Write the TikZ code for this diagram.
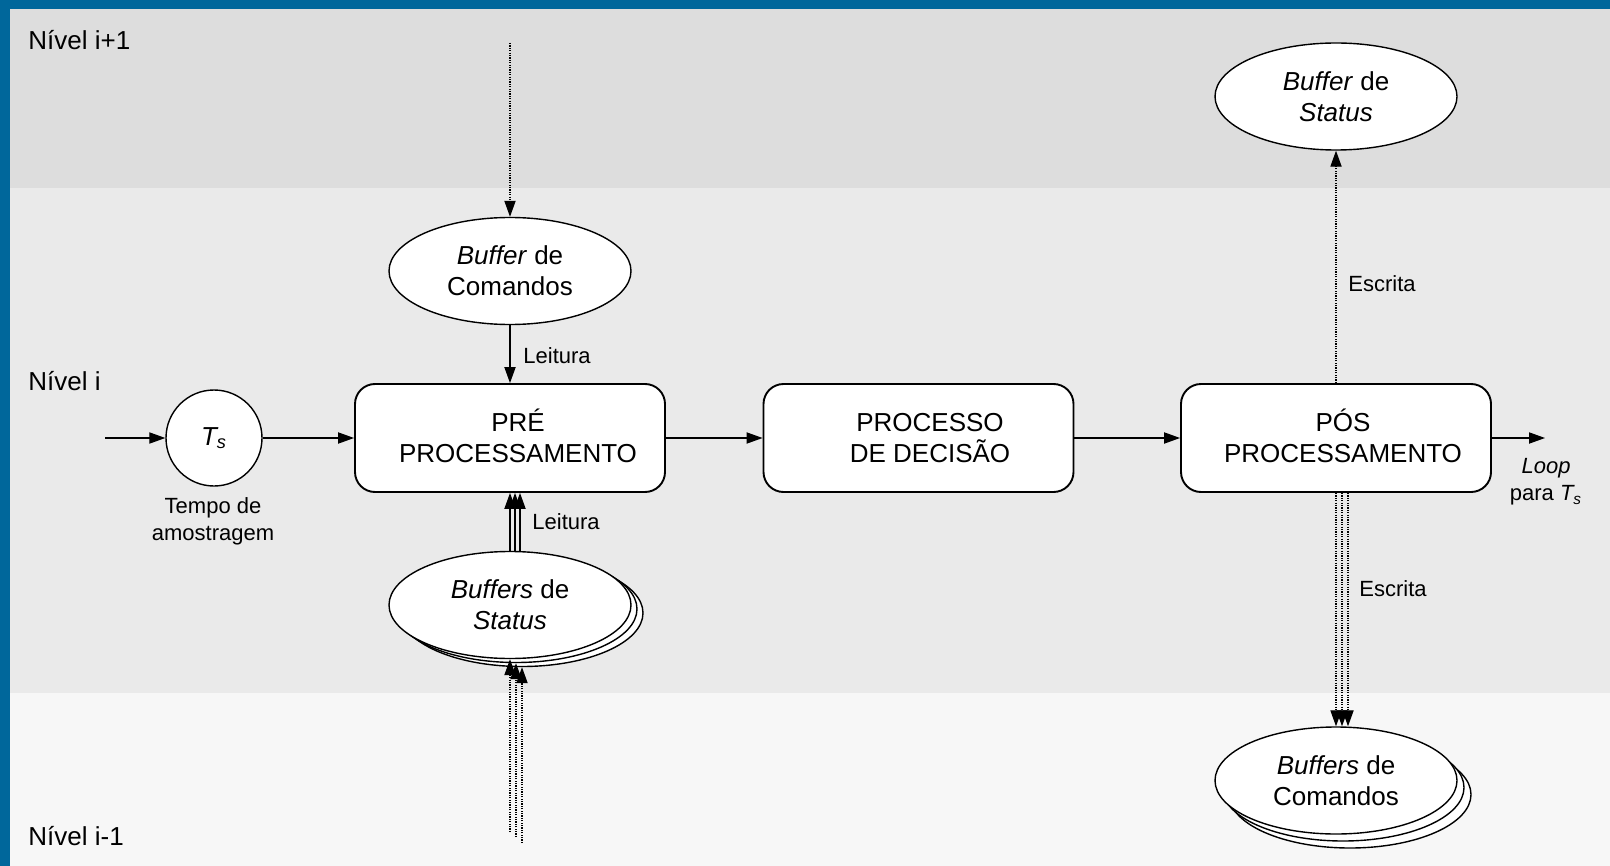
\documentclass[tikz,border=0pt]{standalone}
\usepackage{fontspec}
\setmainfont{Liberation Sans}
\usetikzlibrary{arrows.meta,shapes.geometric}
\definecolor{frameblue}{RGB}{0,103,155}
\definecolor{bandtop}{RGB}{221,221,221}
\definecolor{bandmid}{RGB}{234,234,234}
\definecolor{bandlow}{RGB}{247,247,247}

\begin{document}
\begin{tikzpicture}[x=0.5pt,y=-0.5pt,
  big/.style={font=\fontsize{13}{15.5}\selectfont},
  small/.style={font=\fontsize{11}{13.5}\selectfont},
  lbl/.style={inner sep=0pt, small},
  level/.style={inner sep=0pt, big, anchor=base west},
  proc/.style={draw, line width=0.95pt, rounded corners=10pt, fill=white,
    minimum width=155pt, minimum height=54pt, inner sep=0pt},
  proctext/.style={inner sep=0pt, big, align=center},
  buf/.style={draw, ellipse, line width=0.7pt, fill=white, minimum width=121pt,
    minimum height=53.5pt, inner sep=0pt, align=center, big},
  clock/.style={draw, circle, line width=0.7pt, fill=white, minimum size=48pt,
    inner sep=0pt, big},
  flow/.style={-{Triangle[length=8pt,width=5.6pt]}, line width=0.6pt},
  dots/.style={flow, line width=0.6pt, dash pattern=on 0.6pt off 0.6pt},
]
\useasboundingbox (0,0) rectangle (1610,866);

% level bands and frame
\fill[bandtop] (0,0) rectangle (1610,188);
\fill[bandmid] (0,188) rectangle (1610,693);
\fill[bandlow] (0,693) rectangle (1610,866);
\fill[frameblue] (0,0) rectangle (1610,9);
\fill[frameblue] (0,0) rectangle (10,866);

\node[level] (lvup) at (28,50) {Nível i+1};
\node[level] (lvmid) at (28,390) {Nível i};
\node[level] (lvlow) at (28,845) {Nível i-1};

% sampling clock
\coordinate (in) at (105,438);
\node[clock] (ts) at (214,438) {\textit{T\textsubscript{s}}};
\node[lbl, align=center] (tempo) at (213,521) {Tempo de\\amostragem};

% processing chain
\node[proc] (pre) at (510,438) {};
\node[proctext] (pretext) at (518,435.5) {PRÉ\\PROCESSAMENTO};
\node[proc] (dec) at (918.5,438) {};
\node[proctext] (dectext) at (930,438) {PROCESSO\\DE DECISÃO};
\node[proc] (pos) at (1336,438) {};
\node[proctext] (postext) at (1343,435.5) {PÓS\\PROCESSAMENTO};
\coordinate (loopend) at (1545,438);
\node[lbl, align=center] (loop) at (1546,482) {\textit{Loop}\\para \textit{T\textsubscript{s}}};

% buffers
\node[buf] (cmd) at (510,271) {\textit{Buffer} de\\Comandos};
\node[buf] (stat) at (1336,96.5) {\textit{Buffer} de\\\textit{Status}};

\node[buf] (stsC) at (522,613) {};
\node[buf] (stsB) at (516,609) {};
\node[buf] (stsA) at (510,605) {\textit{Buffers} de\\\textit{Status}};

\node[buf] (cmdsC) at (1350,794.5) {};
\node[buf] (cmdsB) at (1343,787.5) {};
\node[buf] (cmdsA) at (1336,780.5) {\textit{Buffers} de\\Comandos};

% connectors
\draw[flow] (in) -- (ts);
\draw[flow] (ts) -- (pre);
\draw[flow] (pre) -- (dec);
\draw[flow] (dec) -- (pos);
\draw[flow] (pos) -- (loopend);

\coordinate (topsrc) at (510,43);
\draw[dots] (topsrc) -- (cmd.north);
\draw[flow] (cmd) -- (pre);
\node[lbl, anchor=base west] (rd1) at (523,363) {Leitura};

\foreach \dx in {0,2.5,5}
  \draw[flow] ([xshift=\dx pt]stsA.north) -- ([xshift=\dx pt]pre.south);
\node[lbl, anchor=base west] (rd2) at (532,529) {Leitura};

\coordinate (lowA) at (510,832);
\coordinate (lowB) at (516,837);
\coordinate (lowC) at (522,843);
\draw[dots] (lowA) -- (stsA.south);
\draw[dots] (lowB) -- (stsB.south);
\draw[dots] (lowC) -- (stsC.south);

\draw[dots] (pos.north) -- (stat.south);
\node[lbl, anchor=base west] (wr1) at (1348,291) {Escrita};

\foreach \dx in {0,3,6}
  \draw[dots] ([xshift=\dx pt]pos.south) -- ([xshift=\dx pt]cmdsA.north);
\node[lbl, anchor=base west] (wr2) at (1359,596) {Escrita};
\end{tikzpicture}
\end{document}
